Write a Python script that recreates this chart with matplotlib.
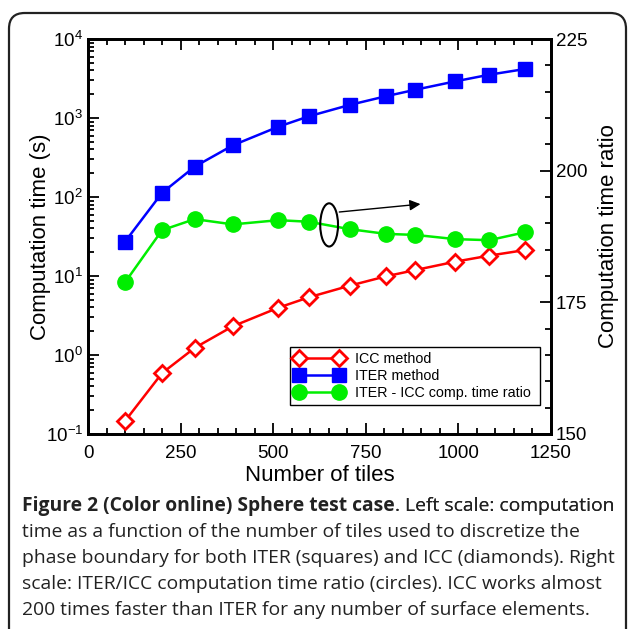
import matplotlib
matplotlib.use("Agg")
import matplotlib.pyplot as plt
from matplotlib.patches import FancyBboxPatch, Ellipse
from matplotlib.ticker import LogLocator, MultipleLocator, NullFormatter

# Data
tiles = [100, 200, 288, 391, 514, 596, 706, 804, 884, 992, 1083, 1180]
icc_time = [0.146, 0.59, 1.23, 2.31, 3.97, 5.37, 7.53, 9.9, 11.9, 15.2, 18.1, 21.3]
iter_time = [27.2, 113, 242, 451, 776, 1050, 1462, 1884, 2280, 2913, 3530, 4170]
time_ratio = [178.8, 188.7, 190.8, 189.8, 190.6, 190.3, 188.9, 188.0, 187.8, 187.0, 186.8, 188.3]

legend_labels = ["ICC method", "ITER method", "ITER - ICC comp. time ratio"]
caption_bold = "Figure 2 (Color online) Sphere test case"
caption_lines = [
    ". Left scale: computation",
    "time as a function of the number of tiles used to discretize the",
    "phase boundary for both ITER (squares) and ICC (diamonds). Right",
    "scale: ITER/ICC computation time ratio (circles). ICC works almost",
    "200 times faster than ITER for any number of surface elements.",
]

plt.rcParams["font.family"] = ["Liberation Sans", "DejaVu Sans"]

fig = plt.figure(figsize=(6.29, 6.29), dpi=100)
W = H = 629.0

# rounded frame around figure + caption
frame = FancyBboxPatch((9 / W, -0.05), 617 / W, 1 - 13 / H + 0.05,
                       boxstyle="round,pad=0,rounding_size=0.025",
                       transform=fig.transFigure, fill=False,
                       edgecolor="#222222", linewidth=1.6)
fig.patches.append(frame)

ax = fig.add_axes([88 / W, 1 - 434 / H, (551 - 88) / W, (434 - 39) / H])
ax2 = ax.twinx()

l_icc, = ax.plot(tiles, icc_time, color="red", lw=1.8, marker="D", ms=8,
                 mfc="white", mec="red", mew=2.0, zorder=3)
l_iter, = ax.plot(tiles, iter_time, color="blue", lw=1.8, marker="s", ms=10,
                  mfc="blue", mec="blue", zorder=3)
l_ratio, = ax2.plot(tiles, time_ratio, color="#00ee00", lw=1.8, marker="o",
                    ms=11, mfc="#00ee00", mec="#00ee00", zorder=3)

ax.set_yscale("log")
ax.set_xlim(0, 1250)
ax.set_ylim(0.1, 1e4)
ax2.set_ylim(150, 225)

ax.xaxis.set_major_locator(MultipleLocator(250))
ax.xaxis.set_minor_locator(MultipleLocator(50))
ax.yaxis.set_major_locator(LogLocator(base=10, numticks=10))
ax.yaxis.set_minor_locator(LogLocator(base=10, subs=range(2, 10), numticks=10))
ax.yaxis.set_minor_formatter(NullFormatter())
ax2.yaxis.set_major_locator(MultipleLocator(25))
ax2.yaxis.set_minor_locator(MultipleLocator(5))

ax.tick_params(which="both", direction="in", top=True, right=False,
               labelsize=13.5, width=1.3)
ax.tick_params(which="major", length=8)
ax.tick_params(which="minor", length=4)
ax.tick_params(axis="x", which="major", pad=8)
ax2.tick_params(which="both", direction="in", labelsize=13.5, width=1.3)
ax2.tick_params(which="major", length=8)
ax2.tick_params(which="minor", length=4)

for a in (ax, ax2):
    for s in a.spines.values():
        s.set_linewidth(2)

ax.set_xlabel("Number of tiles", fontsize=16, labelpad=2)
ax.set_ylabel("Computation time (s)", fontsize=16, labelpad=-4)
ax2.set_ylabel("Computation time ratio", fontsize=16, labelpad=8)

# ellipse + arrow pointing to right scale
ell = Ellipse((651, 189.7), 48, 8.2, fill=False, edgecolor="black", lw=1.5,
              zorder=5)
ax2.add_patch(ell)
ax2.annotate("", xy=(905, 193.7), xytext=(671, 192.1),
             arrowprops=dict(arrowstyle="-|>", color="black", lw=1.0,
                             mutation_scale=16), zorder=5)

leg = fig.legend([l_icc, l_iter, l_ratio], legend_labels, numpoints=2,
                 loc="lower left",
                 bbox_to_anchor=(290 / W, 1 - 405 / H, 250 / W, 58 / H),
                 mode="expand", fontsize=10.3, frameon=True, fancybox=False,
                 edgecolor="black", framealpha=1, borderpad=0.35,
                 labelspacing=0.2, handlelength=3.4, handletextpad=0.8,
                 borderaxespad=0)
leg.get_frame().set_linewidth(1.0)

# caption
cap_font = ["Open Sans", "DejaVu Sans"]
cap_size = 13.85
t0 = fig.text(22 / W, 1 - 506 / H, caption_bold, fontsize=cap_size,
              fontweight="bold", family=cap_font, va="center", color="#222222")
ann = plt.annotate(caption_lines[0], xy=(1, 0.5), xycoords=t0, va="center",
                   ha="left", fontsize=cap_size, family=cap_font,
                   color="#222222", annotation_clip=False)
fig.texts.append(ann)
for i, line in enumerate(caption_lines[1:]):
    fig.text(22 / W, 1 - (532 + 26 * i) / H, line, fontsize=cap_size,
             family=cap_font, va="center", color="#222222")

fig.savefig("out.png", dpi=100)
